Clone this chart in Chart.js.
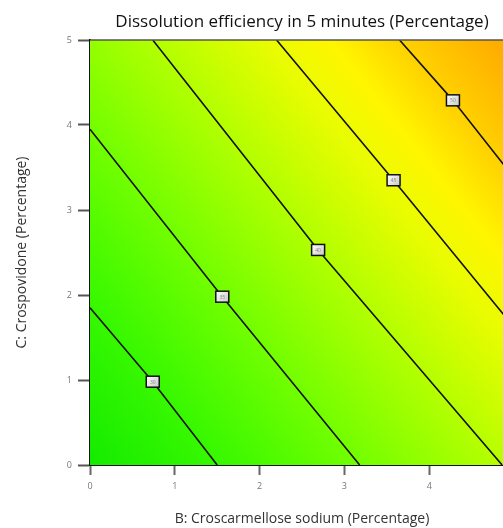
<!DOCTYPE html>
<html>
<head>
<meta charset="utf-8">
<script src="https://cdn.jsdelivr.net/npm/chart.js@4.4.1/dist/chart.umd.min.js"></script>
<style>
  html, body { margin: 0; padding: 0; background: #fff; overflow: hidden; }
  #wrap { width: 530px; height: 528px; }
</style>
</head>
<body>
<div id="wrap"><canvas id="chart" width="530" height="528"></canvas></div>
<script>
// contour lines (B, C pairs)
const line1 = [{x: 0, y: 1.85}, {x: 0.74, y: 0.98}, {x: 1.5, y: 0}];
const line2 = [{x: 0, y: 3.95}, {x: 1.56, y: 1.98}, {x: 3.18, y: 0}];
const line3 = [{x: 0.74, y: 5}, {x: 2.69, y: 2.53}, {x: 4.86, y: 0}];
const line4 = [{x: 2.2, y: 5}, {x: 3.58, y: 3.35}, {x: 5, y: 1.62}];
const line5 = [{x: 3.65, y: 5}, {x: 4.28, y: 4.29}, {x: 5, y: 3.38}];

// contour label boxes
const labelX = [0.74, 1.56, 2.69, 3.58, 4.28];
const labelY = [0.98, 1.98, 2.53, 3.35, 4.29];
const labelText = ['30', '35', '40', '45', '50'];

const tickValues = [0, 1, 2, 3, 4, 5];

// colour field behind the contours
const fieldBg = {
    id: 'fieldBg',
    beforeDatasetsDraw(chart) {
        const {ctx, chartArea: a} = chart;
        const dx = 0.6, dy = -0.48, len = Math.sqrt(dx * dx + dy * dy);
        const proj = ((a.right - a.left) * 0.6 + (a.bottom - a.top) * 0.48) / len;
        const g = ctx.createLinearGradient(a.left, a.bottom,
            a.left + dx / len * proj, a.bottom + dy / len * proj);
        g.addColorStop(0, 'rgb(20,235,0)');
        g.addColorStop(0.17, 'rgb(55,248,0)');
        g.addColorStop(0.34, 'rgb(110,254,0)');
        g.addColorStop(0.51, 'rgb(172,255,0)');
        g.addColorStop(0.68, 'rgb(235,252,0)');
        g.addColorStop(0.76, 'rgb(255,245,0)');
        g.addColorStop(0.85, 'rgb(255,210,0)');
        g.addColorStop(1, 'rgb(255,165,0)');
        ctx.save();
        ctx.fillStyle = g;
        ctx.fillRect(a.left, a.top, a.right - a.left, a.bottom - a.top);
        ctx.restore();
    },
    afterDatasetsDraw(chart) {
        const {ctx, chartArea: a, scales} = chart;
        ctx.save();
        // top frame line
        ctx.strokeStyle = '#555';
        ctx.lineWidth = 1.5;
        ctx.beginPath();
        ctx.moveTo(a.left, a.top);
        ctx.lineTo(a.right, a.top);
        ctx.stroke();
        // label boxes
        for (let i = 0; i < labelX.length; i++) {
            const px = scales.x.getPixelForValue(labelX[i]);
            const py = scales.y.getPixelForValue(labelY[i]);
            const w = 13, h = 11;
            const bg = ctx.createLinearGradient(px - w / 2, py - h / 2, px + w / 2, py + h / 2);
            bg.addColorStop(0, '#ffffff');
            bg.addColorStop(1, '#c8c8c8');
            ctx.fillStyle = bg;
            ctx.fillRect(px - w / 2, py - h / 2, w, h);
            ctx.strokeStyle = '#111';
            ctx.lineWidth = 1.5;
            ctx.strokeRect(px - w / 2, py - h / 2, w, h);
            ctx.fillStyle = '#888';
            ctx.font = '5px "Open Sans"';
            ctx.textAlign = 'center';
            ctx.textBaseline = 'middle';
            ctx.fillText(labelText[i], px, py + 0.5);
        }
        ctx.restore();
    }
};

const contour = (d) => ({
    data: d,
    showLine: true,
    borderColor: '#111',
    borderWidth: 1.6,
    pointRadius: 0,
    tension: 0,
    fill: false,
});

new Chart(document.getElementById('chart'), {
    type: 'scatter',
    data: {
        datasets: [contour(line1), contour(line2), contour(line3), contour(line4), contour(line5)]
    },
    options: {
        responsive: false,
        animation: false,
        layout: {padding: {left: 0, right: 16, top: 0, bottom: 0}},
        plugins: {
            legend: {display: false},
            tooltip: {enabled: false},
            title: {
                display: true,
                fullSize: false,
                text: 'Dissolution efficiency in 5 minutes (Percentage)',
                color: '#111',
                font: {family: 'Open Sans', size: 17, weight: 'normal', lineHeight: 20 / 17},
                padding: {top: 12, bottom: 8}
            }
        },
        scales: {
            x: {
                type: 'linear',
                min: 0, max: 5,
                afterFit(s) { s.height = 63; },
                afterBuildTicks(s) { s.ticks = tickValues.map(v => ({value: v})); },
                grid: {drawOnChartArea: false, drawTicks: true, tickLength: 10, tickWidth: 2, tickColor: '#666'},
                border: {color: '#111', width: 2},
                ticks: {color: '#777', font: {family: 'Open Sans', size: 9}, padding: 6, maxRotation: 0},
                title: {
                    display: true,
                    text: 'B: Croscarmellose sodium (Percentage)',
                    color: '#333',
                    font: {family: 'Open Sans', size: 14},
                    padding: {top: 0, bottom: 1}
                }
            },
            y: {
                type: 'linear',
                min: 0, max: 5,
                afterFit(s) { s.width = 90; },
                afterBuildTicks(s) { s.ticks = tickValues.map(v => ({value: v})); },
                grid: {drawOnChartArea: false, drawTicks: true, tickLength: 12, tickWidth: 2, tickColor: '#555'},
                border: {color: '#111', width: 2},
                ticks: {color: '#777', font: {family: 'Open Sans', size: 9}, padding: 6},
                title: {
                    display: true,
                    text: 'C: Crospovidone (Percentage)',
                    color: '#333',
                    font: {family: 'Open Sans', size: 14},
                    padding: {top: 14, bottom: 0}
                }
            }
        }
    },
    plugins: [fieldBg]
});
</script>
</body>
</html>
